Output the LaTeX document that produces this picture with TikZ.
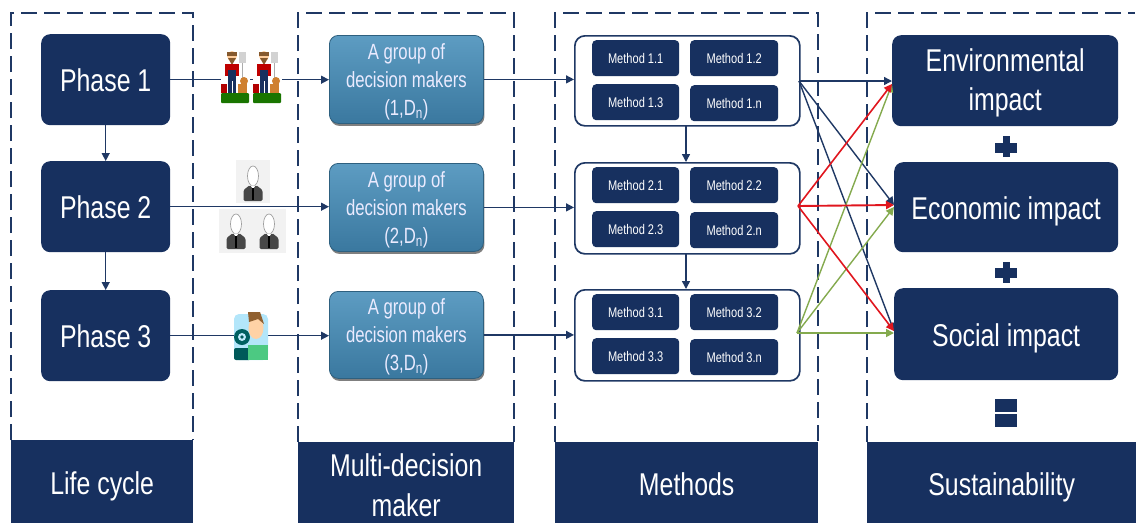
\documentclass[tikz,border=0pt]{standalone}
\usepackage{fontspec}
\setmainfont[FakeStretch=.79]{Liberation Sans}
\newfontfamily\groupfont[FakeStretch=.76]{Liberation Sans}
\usetikzlibrary{arrows.meta,shadows}
\definecolor{navy}{HTML}{17305F}
\definecolor{lineblue}{HTML}{1F3864}
\definecolor{redline}{HTML}{E0161E}
\definecolor{greenline}{HTML}{84AA4E}
\definecolor{grouptop}{HTML}{5D9CC2}
\definecolor{groupbot}{HTML}{3A789F}
\tikzset{
  x=1pt,y=-1pt,
  frame/.style={draw=lineblue,line width=1.3pt,dash pattern=on 16pt off 7pt},
  header/.style={fill=navy,text=white,font=\fontsize{31.5}{40}\selectfont,align=center,inner sep=0pt},
  oneline/.style={text height=27pt,text depth=2pt},
  phasebox/.style={fill=navy,rounded corners=9pt,text=white,font=\fontsize{31.5}{38}\selectfont,align=center,inner sep=0pt,text height=25pt,text depth=2pt},
  groupbox/.style={rounded corners=9pt,top color=grouptop,bottom color=groupbot,draw=groupbot!80!black,line width=.8pt,text=white!92!blue,font=\groupfont\fontsize{22}{28}\selectfont,align=center,inner sep=0pt,drop shadow={shadow xshift=1pt,shadow yshift=-2.5pt,opacity=.5,fill=black}},
  outerbox/.style={draw=lineblue,line width=1.7pt,fill=white,rounded corners=10pt,inner sep=0pt},
  methodbox/.style={fill=navy,rounded corners=4pt,text=white,font=\fontsize{14}{16}\selectfont,inner sep=0pt},
  impactbox/.style={fill=navy,rounded corners=9pt,text=white,font=\fontsize{31.5}{39}\selectfont,align=center,inner sep=0pt},
  impactone/.style={text height=27pt,text depth=2pt},
  conn/.style={draw=lineblue,line width=1.4pt,-{Triangle[length=8pt,width=8pt]}},
  cross/.style={line width=1.4pt,-{Triangle[length=8pt,width=8pt]}},
  sym/.style={fill=navy,draw=none},
}
\newcommand{\abox}[6]{\node[#1,minimum width=(#5)*1pt-(#3)*1pt,minimum height=(#6)*1pt-(#4)*1pt,anchor=north west] (#2) at (#3,#4)}
\newcommand{\farmer}[1]{%
\begin{scope}[shift={#1}]
  \fill[white] (-14.5,-26) rectangle (14.5,26);
  \fill[green!45!black!80!olive,rounded corners=1pt] (-14,15) rectangle (14,25);
  % pitchfork
  \fill[gray!65] (6.6,-16) rectangle (7.8,12);
  \fill[gray!35] (3.5,-26) rectangle (10.5,-15);
  % head, hair, beard
  \fill[orange!40!white] (-3,-22) circle (5);
  \fill[brown!70!black] (-8,-26) rectangle (2,-22);
  \fill[brown!70!black] (-7,-20) -- (1,-20) -- (-3,-13) -- cycle;
  % shirt, overalls, legs
  \fill[red!75!black] (-10,-14) rectangle (4,-2);
  \fill[navy] (-7,-8) rectangle (1,15);
  \fill[white] (-3.5,3) rectangle (-2.5,15);
  % bucket and dog
  \fill[red!70!black] (-14,6) rectangle (-8,15);
  \fill[brown!75!orange] (3,6) rectangle (12,15);
  \fill[brown!75!orange] (9,3) circle (4);
\end{scope}}
\newcommand{\person}[1]{%
\begin{scope}[shift={#1}]
  \draw[gray!75,fill=white,line width=.7pt] (0,0) ellipse (5.5 and 10);
  \fill[black!72,rounded corners=1.5pt] (-9.5,25) -- (-9.5,14) -- (-3,9) -- (0,13) -- (3,9) -- (9.5,14) -- (9.5,25) -- cycle;
  \fill[white] (-2.2,9.5) -- (0,13) -- (2.2,9.5) -- cycle;
  \fill[black] (-.8,12) rectangle (.8,24);
\end{scope}}
\begin{document}
\begin{tikzpicture}
\useasboundingbox (0,0) rectangle (1136,523);
% dashed frames
\draw[frame] (11,440) -- (11,13) -- (193,13) -- (193,440);
\draw[frame] (298,442) -- (298,13) -- (514,13) -- (514,442);
\draw[frame] (555,442) -- (555,13) -- (818,13) -- (818,442);
\draw[frame] (867,442) -- (867,13) -- (1135,13);
% headers
\abox{header,oneline}{h1}{11}{440}{193}{523} {Life cycle};
\abox{header}{h2}{298}{442}{514}{523} {\rule{0pt}{28pt}Multi-decision\\maker};
\abox{header,oneline}{h3}{555}{442}{818}{523} {Methods};
\abox{header,oneline}{h4}{867}{442}{1136}{523} {Sustainability};
% phases
\abox{phasebox}{p1}{41}{34}{170}{125} {Phase 1};
\abox{phasebox}{p2}{41}{161}{170}{252} {Phase 2};
\abox{phasebox}{p3}{41}{290}{170}{381} {Phase 3};
% groups
\abox{groupbox}{g1}{329}{35}{483}{123} {\rule{0pt}{20pt}A group of\\decision makers\\(1,D\textsubscript{n})};
\abox{groupbox}{g2}{329}{163}{483}{251} {\rule{0pt}{20pt}A group of\\decision makers\\(2,D\textsubscript{n})};
\abox{groupbox}{g3}{329}{291}{483}{378} {\rule{0pt}{20pt}A group of\\decision makers\\(3,D\textsubscript{n})};
% methods
\abox{outerbox}{m1}{574}{35}{799}{125} {};
\abox{outerbox}{m2}{574}{162}{799}{253} {};
\abox{outerbox}{m3}{574}{289}{799}{380} {};
\foreach \r/\y in {1/0,2/127,3/254}{
  \abox{methodbox}{m\r a}{592}{40+\y}{679}{76+\y} {Method \r.1};
  \abox{methodbox}{m\r b}{690}{40+\y}{778}{76+\y} {Method \r.2};
  \abox{methodbox}{m\r c}{592}{84+\y}{679}{120+\y} {Method \r.3};
  \abox{methodbox}{m\r d}{690}{85+\y}{778}{121+\y} {Method \r.n};
}
% impacts
\abox{impactbox}{e}{892}{35}{1118}{126} {\rule{0pt}{28pt}Environmental\\impact};
\abox{impactbox,impactone}{c}{894}{162}{1118}{252} {Economic impact};
\abox{impactbox,impactone}{s}{894}{288}{1118}{380} {Social impact};
% vertical connectors
\draw[conn] (p1) -- (p2);
\draw[conn] (p2) -- (p3);
\coordinate (v1) at (686,125); \coordinate (v2) at (686,162);
\coordinate (v3) at (686,253); \coordinate (v4) at (686,289);
\draw[conn] (v1) -- (v2);
\draw[conn] (v3) -- (v4);
% horizontal connectors
\draw[conn] (p1.east) -- (p1.east -| g1.west);
\draw[conn] (p2.east) -- (p2.east -| g2.west);
\draw[conn] (p3.east) -- (p3.east -| g3.west);
\draw[conn] (g1.east) -- (g1.east -| m1.west);
\draw[conn] (g2.east) -- (g2.east -| m2.west);
\draw[conn] (g3.east) -- (g3.east -| m3.west);
% crossing arrows
\coordinate (mo1) at (799,81); \coordinate (mo2) at (798,206); \coordinate (mo3) at (797,333);
\coordinate (ie1) at (892,81); \coordinate (ie2) at (892,84);
\coordinate (ic1) at (894,205); \coordinate (ic2) at (894,207);
\coordinate (is1) at (894,331); \coordinate (is2) at (894,333);
\draw[cross,lineblue] (mo1) -- (ie1);
\draw[cross,lineblue] (mo1) -- (ic1);
\draw[cross,lineblue] (mo1) -- (is1);
\draw[cross,greenline] (mo3) -- (ie2);
\draw[cross,greenline] (mo3) -- (ic2);
\draw[cross,greenline,line width=1.7pt] (mo3) -- (is2);
\draw[cross,redline,line width=1.6pt] (mo2) -- (ie2);
\draw[cross,redline,line width=1.9pt] (mo2) -- (ic1);
\draw[cross,redline,line width=1.6pt] (mo2) -- (is1);
% icons
\farmer{(235,78)}
\farmer{(267,78)}
\fill[gray!10] (236,160) rectangle (270,203);
\fill[gray!10] (219,209) rectangle (286,253);
\person{(253,176)}
\person{(236,224)}
\person{(269,224)}
\begin{scope}[shift={(251,336)}]
  \fill[cyan!30!white,rounded corners=5pt] (-17,-22) rectangle (17,24);
  \fill[teal!75!black] (-9,1) circle (8);
  \fill[cyan!25!white] (-9,1) circle (4);
  \fill[teal!70!black] (-9,1) circle (1.8);
  \fill[teal!70!black,rounded corners=2pt] (-17,12) rectangle (0,24);
  \fill[orange!35!white] (5,-8) ellipse (7.5 and 11);
  \fill[brown!75!black] (-3,-24) -- (9,-24) -- (13,-12) -- (7,-17) -- (-2,-14) -- cycle;
  \fill[teal!60!green!70!white] (-3,9) rectangle (17,24);
\end{scope}
% symbols
\fill[sym] (1003,136) rectangle (1010,157);
\fill[sym] (995,143) rectangle (1017,153);
\fill[sym] (1003,262) rectangle (1010,283);
\fill[sym] (995,268) rectangle (1017,278);
\fill[sym] (995,399) rectangle (1017,412);
\fill[sym] (995,414) rectangle (1017,427);
\end{tikzpicture}
\end{document}
